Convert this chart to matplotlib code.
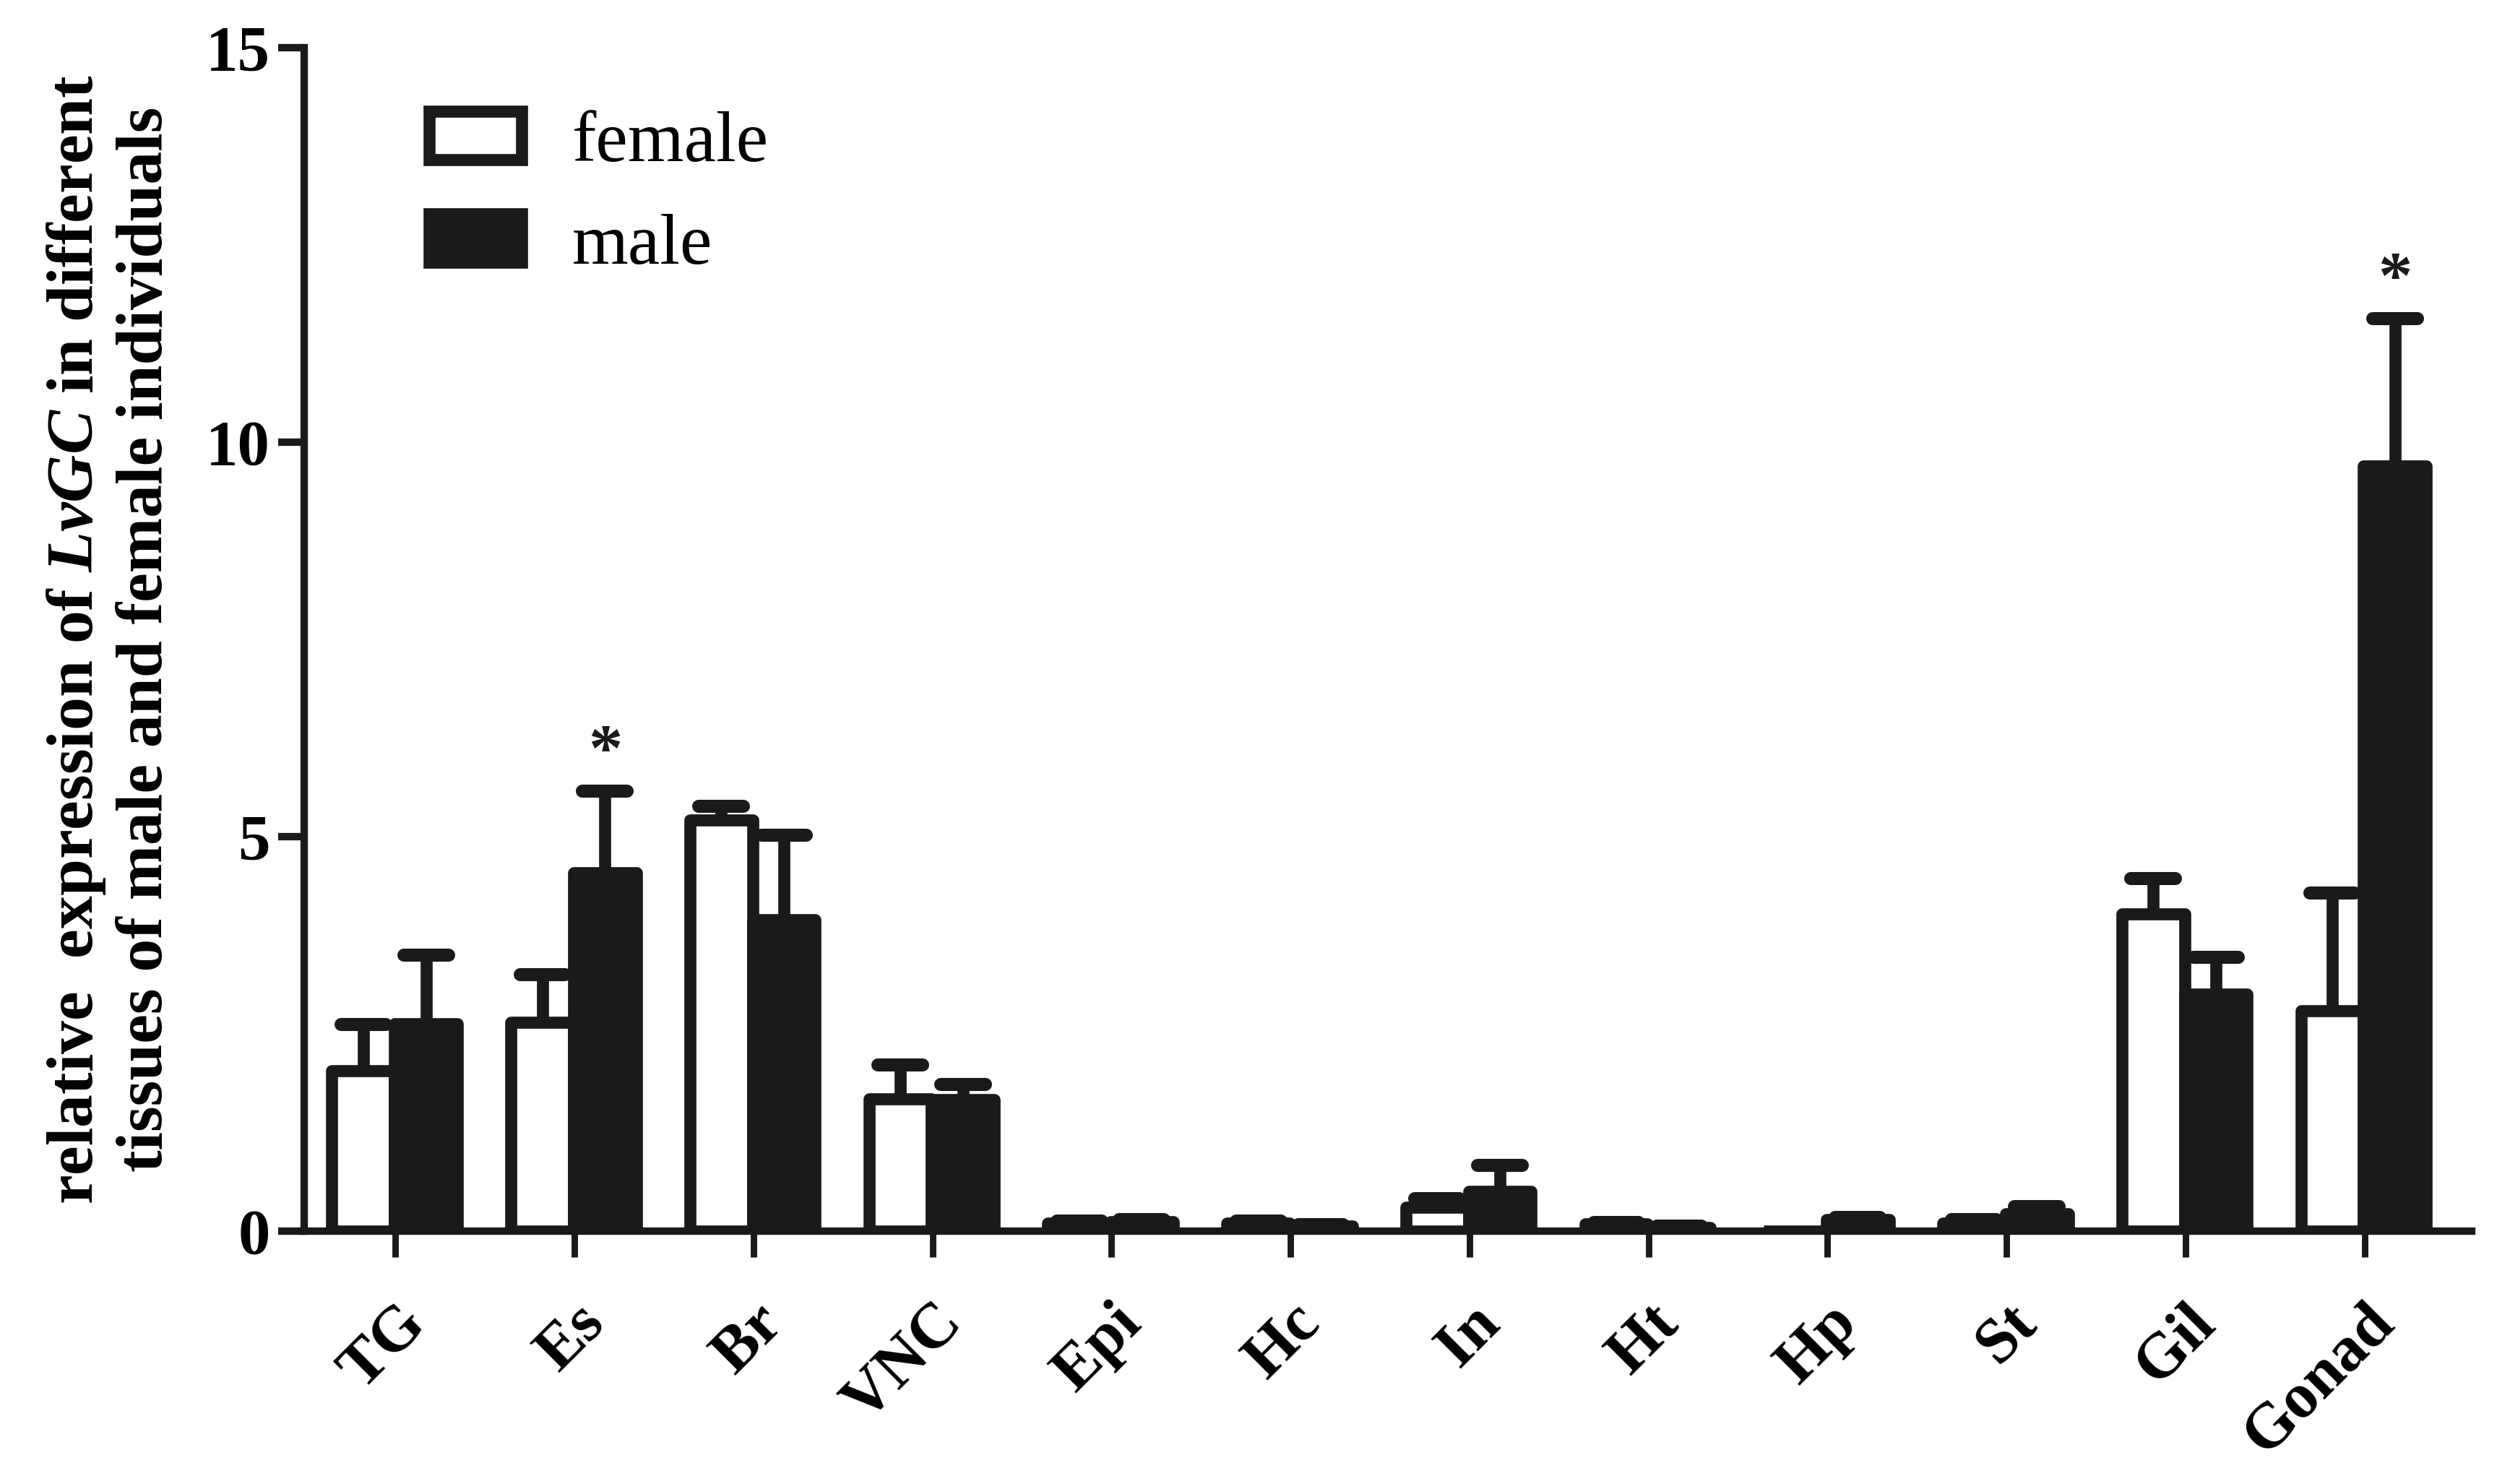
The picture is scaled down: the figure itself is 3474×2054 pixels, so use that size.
import numpy as np
import matplotlib
matplotlib.use("Agg")
import matplotlib.pyplot as plt
from matplotlib.markers import MarkerStyle

plt.rcParams['font.family'] = ['Liberation Serif', 'DejaVu Serif']
plt.rcParams['mathtext.fontset'] = 'custom'
plt.rcParams['mathtext.it'] = 'Liberation Serif:italic:bold'
plt.rcParams['mathtext.rm'] = 'Liberation Serif:bold'

tissues = ['TG', 'Es', 'Br', 'VNC', 'Epi', 'Hc', 'In', 'Ht', 'Hp', 'St', 'Gil', 'Gonad']
female = [2.03, 2.65, 5.21, 1.68, 0.10, 0.10, 0.30, 0.09, 0.0, 0.10, 4.02, 2.79]
female_err = [0.59, 0.60, 0.17, 0.43, 0.03, 0.03, 0.11, 0.02, 0.0, 0.05, 0.45, 1.50]
male = [2.63, 4.54, 3.95, 1.67, 0.12, 0.06, 0.50, 0.05, 0.15, 0.22, 3.00, 9.70]
male_err = [0.87, 1.04, 1.07, 0.19, 0.03, 0.02, 0.33, 0.01, 0.02, 0.09, 0.47, 1.87]
significant = ['Es', 'Gonad']
series_labels = ['female', 'male']
yticks = [0, 5, 10, 15]

fig = plt.figure(figsize=(17.37, 10.27), dpi=200)
ax = fig.add_axes([0.1212, 0.1704, 0.8636, 0.7975])

x = np.arange(len(tissues))
w = 0.35
lw = 6.0
xf = x - 0.18
xm = x + 0.17
ink = '#1a1a1a'

bf = ax.bar(xf, female, width=w, color='white', edgecolor=ink, linewidth=lw,
            label=series_labels[0], zorder=3)
bm = ax.bar(xm, male, width=w, color=ink, edgecolor=ink, linewidth=lw,
            label=series_labels[1], zorder=3)
for b in list(bf) + list(bm):
    b.set_joinstyle('round')

for xs, vals, errs in [(xf, female, female_err), (xm, male, male_err)]:
    vals = np.array(vals)
    errs = np.array(errs)
    mask = vals > 0
    eb = ax.errorbar(xs[mask], vals[mask], yerr=[np.zeros(mask.sum()), errs[mask]],
                     fmt='none', ecolor=ink, elinewidth=6.0, capsize=11,
                     capthick=6.5, zorder=2)
    for cl in eb[1]:
        yd = np.asarray(cl.get_ydata())
        if np.allclose(yd, vals[mask]):
            cl.set_visible(False)
        else:
            cl.set_marker(MarkerStyle('_', capstyle='round'))

for name in significant:
    i = tissues.index(name)
    top = male[i] + male_err[i]
    ax.text(xm[i], top + 0.26, '*', ha='center', va='baseline', fontsize=34,
            fontweight='bold', color=ink)

ax.set_xlim(-0.51, 11.6)
ax.set_ylim(0, 15)
ax.set_yticks(yticks)
ax.set_yticklabels([str(t) for t in yticks], fontsize=32, fontweight='bold')
ax.set_xticks(x)
ax.set_xticklabels(tissues, fontsize=32, fontweight='bold', rotation=45,
                   ha='right', va='top', rotation_mode='anchor')
for sp in ['top', 'right']:
    ax.spines[sp].set_visible(False)
for sp in ['left', 'bottom']:
    ax.spines[sp].set_linewidth(3.7)
    ax.spines[sp].set_color(ink)
ax.spines['left'].set_bounds(0, 15)
ax.tick_params(axis='y', length=13, width=3.7, pad=4, color=ink)
ax.tick_params(axis='x', length=13, width=3.2, pad=18, color=ink)

ax.set_ylabel('relative  expression of $\\mathit{LvGC}$ in different\ntissues of male and female individuals',
              fontsize=33, fontweight='bold', linespacing=1.2, labelpad=15)

leg = ax.legend(loc='upper left', bbox_to_anchor=(0.0575, 0.9465), frameon=False,
                fontsize=36, handlelength=1.28, handleheight=0.66, handletextpad=0.7,
                labelspacing=0.52, borderpad=0, borderaxespad=0)

fig.savefig('out.png', dpi=200, facecolor='white')
